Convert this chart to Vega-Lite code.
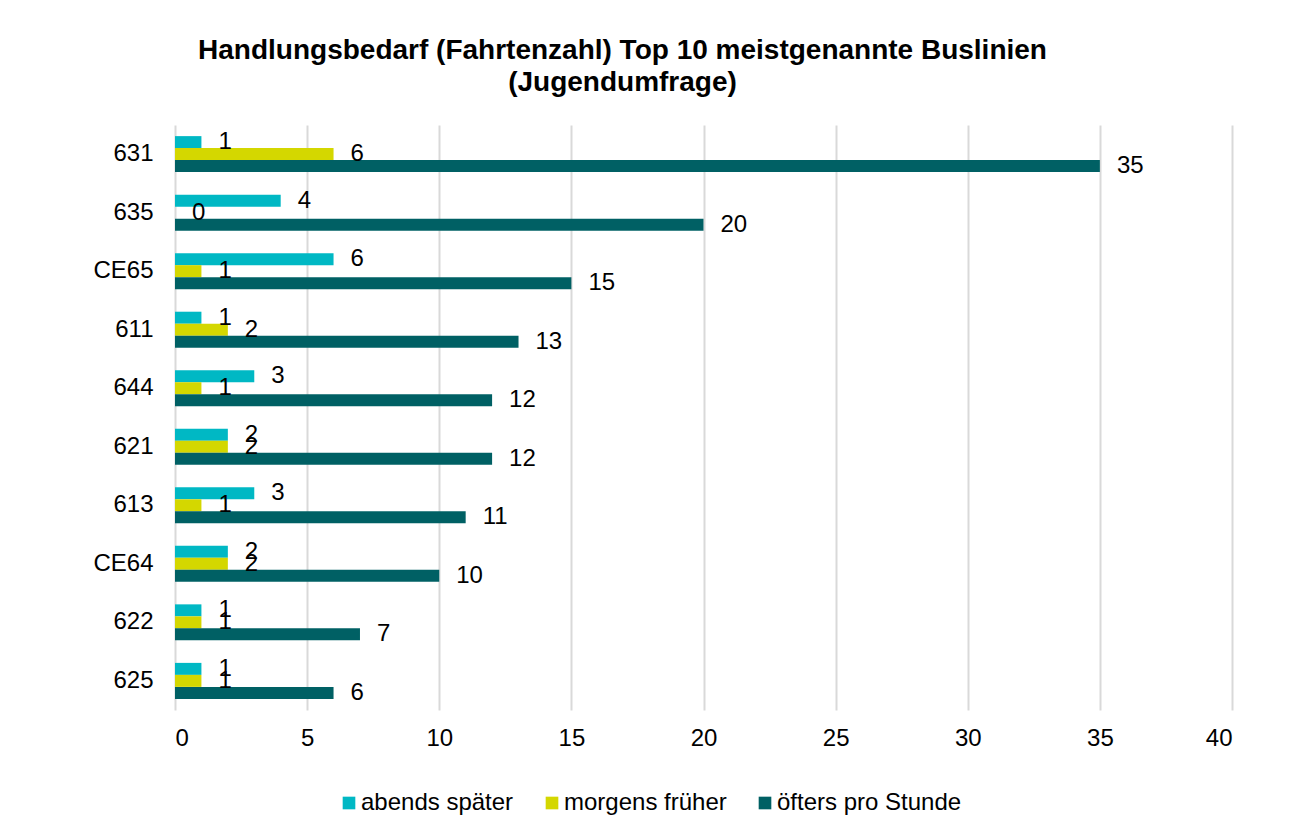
{
  "$schema": "https://vega.github.io/schema/vega-lite/v6.json",
  "width": 1057,
  "height": 585,
  "autosize": {"type": "none"},
  "padding": {"left": 175, "top": 125, "right": 58, "bottom": 124},
  "background": "white",
  "config": {
    "font": "Liberation Sans",
    "view": {"stroke": null}
  },
  "title": {
    "text": ["Handlungsbedarf (Fahrtenzahl) Top 10 meistgenannte Buslinien", "(Jugendumfrage)"],
    "font": "Liberation Sans",
    "fontSize": 28,
    "fontWeight": "bold",
    "color": "#000000",
    "anchor": "middle",
    "dx": -81,
    "offset": 28,
    "lineHeight": 32
  },
  "data": {
    "values": [
      {"linie": "631", "serie": "abends später", "wert": 1},
      {"linie": "631", "serie": "morgens früher", "wert": 6},
      {"linie": "631", "serie": "öfters pro Stunde", "wert": 35},
      {"linie": "635", "serie": "abends später", "wert": 4},
      {"linie": "635", "serie": "morgens früher", "wert": 0},
      {"linie": "635", "serie": "öfters pro Stunde", "wert": 20},
      {"linie": "CE65\u00a0", "serie": "abends später", "wert": 6},
      {"linie": "CE65\u00a0", "serie": "morgens früher", "wert": 1},
      {"linie": "CE65\u00a0", "serie": "öfters pro Stunde", "wert": 15},
      {"linie": "611", "serie": "abends später", "wert": 1},
      {"linie": "611", "serie": "morgens früher", "wert": 2},
      {"linie": "611", "serie": "öfters pro Stunde", "wert": 13},
      {"linie": "644", "serie": "abends später", "wert": 3},
      {"linie": "644", "serie": "morgens früher", "wert": 1},
      {"linie": "644", "serie": "öfters pro Stunde", "wert": 12},
      {"linie": "621", "serie": "abends später", "wert": 2},
      {"linie": "621", "serie": "morgens früher", "wert": 2},
      {"linie": "621", "serie": "öfters pro Stunde", "wert": 12},
      {"linie": "613", "serie": "abends später", "wert": 3},
      {"linie": "613", "serie": "morgens früher", "wert": 1},
      {"linie": "613", "serie": "öfters pro Stunde", "wert": 11},
      {"linie": "CE64", "serie": "abends später", "wert": 2},
      {"linie": "CE64", "serie": "morgens früher", "wert": 2},
      {"linie": "CE64", "serie": "öfters pro Stunde", "wert": 10},
      {"linie": "622", "serie": "abends später", "wert": 1},
      {"linie": "622", "serie": "morgens früher", "wert": 1},
      {"linie": "622", "serie": "öfters pro Stunde", "wert": 7},
      {"linie": "625", "serie": "abends später", "wert": 1},
      {"linie": "625", "serie": "morgens früher", "wert": 1},
      {"linie": "625", "serie": "öfters pro Stunde", "wert": 6}
    ]
  },
  "encoding": {
    "y": {
      "field": "linie",
      "type": "nominal",
      "sort": ["631", "635", "CE65\u00a0", "611", "644", "621", "613", "CE64", "622", "625"],
      "scale": {"paddingInner": 0.385, "paddingOuter": 0.19},
      "axis": {
        "title": null,
        "ticks": false,
        "domain": false,
        "labelFontSize": 24,
        "labelColor": "#000000",
        "labelPadding": 22,
        "labelFont": "Liberation Sans"
      }
    },
    "yOffset": {
      "field": "serie",
      "type": "nominal",
      "sort": ["abends später", "morgens früher", "öfters pro Stunde"],
      "scale": {"paddingInner": 0, "paddingOuter": 0}
    },
    "x": {
      "field": "wert",
      "type": "quantitative",
      "scale": {"domain": [0, 40], "nice": false},
      "axis": {
        "title": null,
        "values": [0, 5, 10, 15, 20, 25, 30, 35, 40],
        "ticks": false,
        "domain": false,
        "grid": true,
        "gridColor": "#d9d9d9",
        "gridWidth": 2,
        "labelFontSize": 24,
        "labelColor": "#000000",
        "labelPadding": 16,
        "labelFont": "Liberation Sans"
      }
    }
  },
  "layer": [
    {
      "mark": {"type": "bar"},
      "encoding": {
        "color": {
          "field": "serie",
          "type": "nominal",
          "sort": ["abends später", "morgens früher", "öfters pro Stunde"],
          "scale": {
            "domain": ["abends später", "morgens früher", "öfters pro Stunde"],
            "range": ["#00B8C4", "#D4D700", "#006064"]
          },
          "legend": {
            "title": null,
            "orient": "none",
            "direction": "horizontal",
            "legendX": 162,
            "legendY": 666,
            "symbolType": "square",
            "symbolSize": 160,
            "symbolStrokeWidth": 0,
            "symbolOpacity": 1,
            "labelFontSize": 24,
            "labelColor": "#000000",
            "labelFont": "Liberation Sans",
            "labelOffset": 0,
            "columnPadding": 26,
            "labelLimit": 400
          }
        }
      }
    },
    {
      "mark": {"type": "text", "align": "left", "baseline": "middle", "dx": 17, "fontSize": 24, "color": "#000000", "font": "Liberation Sans"},
      "encoding": {
        "text": {"field": "wert", "type": "quantitative"}
      }
    }
  ]
}
